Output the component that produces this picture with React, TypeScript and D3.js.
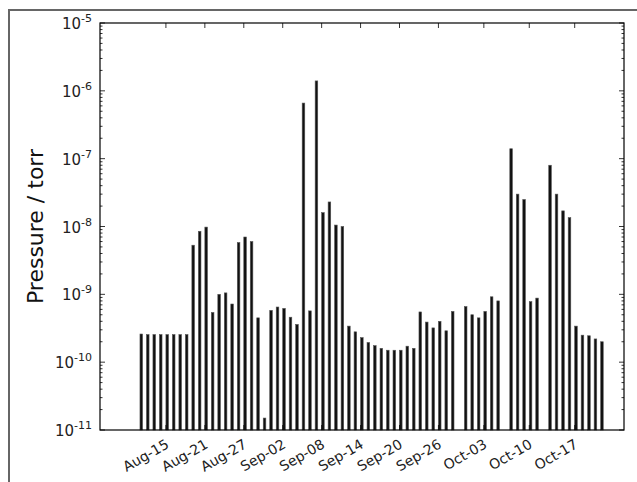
import { useEffect, useRef } from "react";
import * as d3 from "d3";

// one reading per day, starting Aug-11; null = no reading that day
const startDay = "2013-08-11";
const pressures: (number | null)[] = [
  2.6e-10, 2.55e-10, 2.55e-10, 2.55e-10, 2.55e-10, 2.55e-10, 2.55e-10, 2.55e-10,
  5.3e-9, 8.5e-9, 9.8e-9, 5.4e-10, 1.0e-9, 1.05e-9, 7.2e-10, 5.8e-9,
  7.0e-9, 6.0e-9, 4.5e-10, 1.5e-11, 5.8e-10, 6.5e-10, 6.2e-10, 4.6e-10,
  3.6e-10, 6.6e-7, 5.7e-10, 1.4e-6, 1.6e-8, 2.3e-8, 1.05e-8, 1.0e-8,
  3.4e-10, 2.8e-10, 2.3e-10, 1.95e-10, 1.75e-10, 1.6e-10, 1.5e-10, 1.5e-10,
  1.5e-10, 1.72e-10, 1.6e-10, 5.5e-10, 3.9e-10, 3.2e-10, 4.0e-10, 2.9e-10,
  5.6e-10, null, 6.6e-10, 5.0e-10, 4.5e-10, 5.6e-10, 9.2e-10, 8.0e-10,
  null, 1.4e-7, 3.0e-8, 2.5e-8, 7.8e-10, 8.8e-10, null, 8.0e-8,
  3.0e-8, 1.7e-8, 1.35e-8, 3.4e-10, 2.5e-10, 2.45e-10, 2.2e-10, 2.0e-10,
];
const tickDates = [
  "2013-08-15", "2013-08-21", "2013-08-27", "2013-09-02", "2013-09-08", "2013-09-14",
  "2013-09-20", "2013-09-26", "2013-10-03", "2013-10-10", "2013-10-17",
];
const yTicks = [1e-11, 1e-10, 1e-9, 1e-8, 1e-7, 1e-6, 1e-5];

const DAY = 86400000;

export default function App() {
  const svgRef = useRef<SVGSVGElement>(null);

  useEffect(() => {
    const svg = d3.select(svgRef.current);
    svg.selectAll("*").remove();

    const width = 637, height = 482;
    const margin = { top: 23, right: 13, bottom: 52, left: 100 };
    const innerWidth = width - margin.left - margin.right;
    const innerHeight = height - margin.top - margin.bottom;
    const t0 = Date.parse(startDay);

    const data = pressures
      .map((v, i) => ({ t: t0 + i * DAY, v }))
      .filter((d) => d.v !== null) as { t: number; v: number }[];

    const x = d3
      .scaleUtc()
      .domain([t0 - 6.16 * DAY, t0 + 74.6 * DAY])
      .range([0, innerWidth]);
    const y = d3.scaleLog().domain([1e-11, 1e-5]).range([innerHeight, 0]);

    // outer frame
    svg.append("rect").attr("x", 9).attr("y", 10).attr("width", 640).attr("height", 500)
      .attr("fill", "none").attr("stroke", "#666").attr("stroke-width", 2);

    const g = svg.append("g").attr("transform", `translate(${margin.left},${margin.top})`);

    const barW = x(t0 + 0.4 * DAY) - x(t0);
    g.selectAll("rect.bar")
      .data(data)
      .join("rect")
      .attr("class", "bar")
      .attr("x", (d) => x(d.t))
      .attr("y", (d) => y(d.v))
      .attr("width", barW)
      .attr("height", (d) => innerHeight - y(d.v))
      .attr("fill", "#111")
      .attr("stroke", "#555")
      .attr("stroke-width", 0.6);

    // minor + major y ticks on both sides
    const minor: number[] = [];
    for (let e = -11; e < -5; e++) for (let m = 2; m < 10; m++) minor.push(m * Math.pow(10, e));
    [0, innerWidth].forEach((sx) => {
      const dir = sx === 0 ? 1 : -1;
      g.selectAll(null).data(minor).join("line")
        .attr("x1", sx).attr("x2", sx + dir * 2.5)
        .attr("y1", (d) => y(d)).attr("y2", (d) => y(d))
        .attr("stroke", "#000").attr("stroke-width", 0.8);
      g.selectAll(null).data(yTicks).join("line")
        .attr("x1", sx).attr("x2", sx + dir * 5)
        .attr("y1", (d) => y(d)).attr("y2", (d) => y(d))
        .attr("stroke", "#000").attr("stroke-width", 0.8);
    });

    const xt = tickDates.map((s) => Date.parse(s));
    [0, innerHeight].forEach((sy) => {
      const dir = sy === 0 ? 1 : -1;
      g.selectAll(null).data(xt).join("line")
        .attr("x1", (d) => x(d)).attr("x2", (d) => x(d))
        .attr("y1", sy).attr("y2", sy + dir * 5)
        .attr("stroke", "#000").attr("stroke-width", 0.8);
    });

    g.append("rect").attr("width", innerWidth).attr("height", innerHeight)
      .attr("fill", "none").attr("stroke", "#000").attr("stroke-width", 1.2);

    const font = "DejaVu Sans, sans-serif";
    const yl = g.selectAll(null).data(yTicks).join("text")
      .attr("x", -8).attr("y", (d) => y(d) + 6)
      .attr("text-anchor", "end").attr("font-family", font).attr("font-size", 15).attr("fill", "#222");
    yl.append("tspan").text("10");
    yl.append("tspan").attr("dy", -7).attr("font-size", 11).text((d) => String(Math.round(Math.log10(d))));

    g.selectAll(null).data(xt).join("text")
      .attr("transform", (d) => `translate(${x(d) + 4},${innerHeight + 17}) rotate(-30)`)
      .attr("text-anchor", "end").attr("font-family", font).attr("font-size", 14).attr("fill", "#222")
      .text((d) => d3.utcFormat("%b-%d")(new Date(d)));

    svg.append("text")
      .attr("transform", `translate(43,${margin.top + innerHeight / 2}) rotate(-90)`)
      .attr("text-anchor", "middle").attr("font-family", font).attr("font-size", 22).attr("fill", "#111")
      .text("Pressure / torr");
  }, []);

  return <svg ref={svgRef} width={637} height={482} style={{ position: "absolute", left: 0, top: 0 }} />;
}
